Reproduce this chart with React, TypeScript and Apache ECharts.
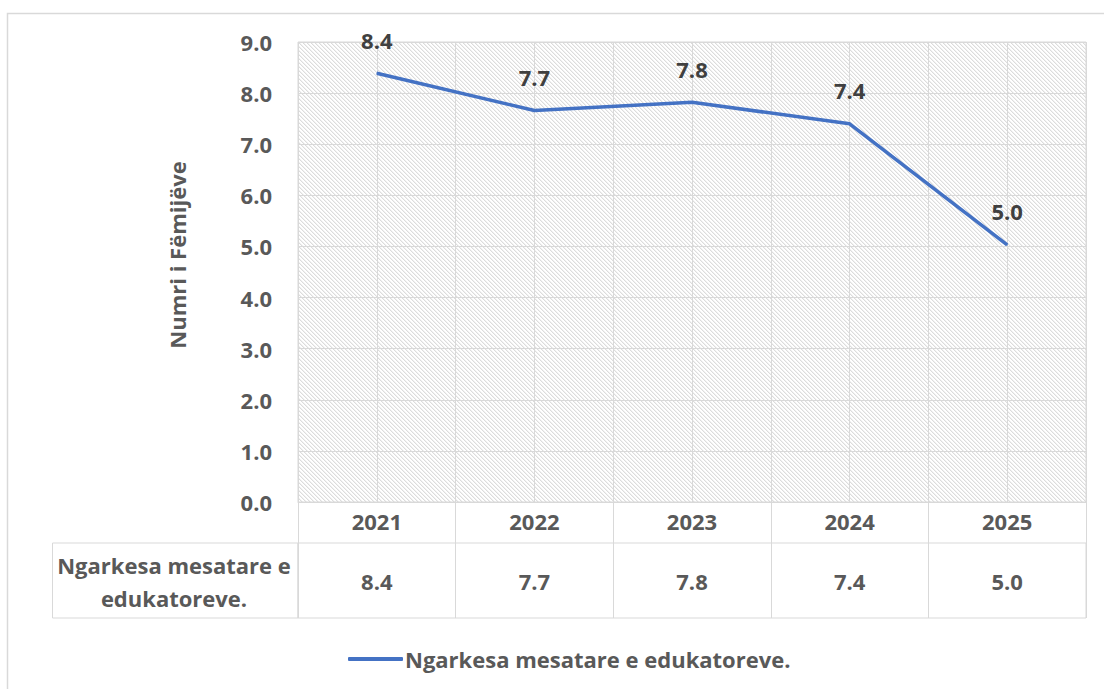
import React, { useEffect, useRef } from 'react';
import * as echarts from 'echarts';

const years = ['2021', '2022', '2023', '2024', '2025'];
const values = [8.39, 7.66, 7.82, 7.4, 5.03];
const seriesName = 'Ngarkesa mesatare e edukatoreve.';
const yAxisTitle = 'Numri i Fëmijëve';
const yMin = 0;
const yMax = 9;
const yStep = 1;

const FONT = '"Open Sans", "Noto Sans", sans-serif';
const GRID = '#d9d9d9';
const TXT = '#595959';

function makePattern(): string {
  const c = document.createElement('canvas');
  c.width = 8;
  c.height = 8;
  const ctx = c.getContext('2d')!;
  ctx.fillStyle = '#ffffff';
  ctx.fillRect(0, 0, 8, 8);
  for (let y = 0; y < 8; y++) {
    for (let x = 0; x < 8; x++) {
      const d = (((x - y) % 4) + 4) % 4;
      if (d === 0) {
        ctx.fillStyle = '#dcdcdc';
        ctx.fillRect(x, y, 1, 1);
      } else if (d === 1) {
        ctx.fillStyle = '#f1f1f1';
        ctx.fillRect(x, y, 1, 1);
      }
    }
  }
  return c.toDataURL();
}

export default function App() {
  const ref = useRef<HTMLDivElement>(null);
  useEffect(() => {
    document.body.style.margin = '0';
    const chart = echarts.init(ref.current!, undefined, { renderer: 'svg' });
    const pattern = makePattern();
    const boldText = { fontSize: 22, fontWeight: 'bold' as const, color: TXT, fontFamily: FONT };
    const option: any = {
      animation: false,
      backgroundColor: '#ffffff',
      grid: [
        {
          left: 298,
          top: 42,
          width: 788,
          height: 460,
          show: true,
          backgroundColor: { image: pattern, repeat: 'repeat' },
          borderColor: GRID,
          borderWidth: 1,
        },
        {
          left: 298,
          top: 543,
          width: 788,
          height: 75,
          show: true,
          backgroundColor: 'transparent',
          borderColor: GRID,
          borderWidth: 1,
        },
      ],
      xAxis: [
        {
          type: 'category',
          gridIndex: 0,
          data: years,
          boundaryGap: true,
          axisLine: { show: true, lineStyle: { color: GRID, width: 1 } },
          axisTick: { show: true, length: 41, lineStyle: { color: GRID, width: 1 } },
          axisLabel: { ...boldText, margin: 8 },
          splitLine: { show: false },
        },
        {
          type: 'value',
          gridIndex: 0,
          min: 0,
          max: 10,
          interval: 1,
          position: 'top',
          axisLine: { show: false },
          axisTick: { show: false },
          axisLabel: { show: false },
          splitLine: { show: true, lineStyle: { color: GRID, width: 1 } },
        },
        {
          type: 'category',
          gridIndex: 1,
          data: years,
          boundaryGap: true,
          axisLine: { show: false },
          axisTick: { show: false },
          axisLabel: { show: false },
          splitLine: { show: true, lineStyle: { color: GRID, width: 1 } },
        },
      ],
      yAxis: [
        {
          type: 'value',
          gridIndex: 0,
          min: yMin,
          max: yMax,
          interval: yStep,
          axisLine: { show: false },
          axisTick: { show: false },
          axisLabel: { ...boldText, margin: 26, formatter: (v: number) => v.toFixed(1) },
          splitLine: { show: true, lineStyle: { color: GRID, width: 1 } },
          name: yAxisTitle,
          nameLocation: 'middle',
          nameGap: 110,
          nameTextStyle: { ...boldText, padding: [0, 0, 0, 34] },
        },
        {
          type: 'value',
          gridIndex: 1,
          min: 0,
          max: 1,
          show: false,
        },
      ],
      legend: {
        data: [{ name: seriesName, icon: 'roundRect' }],
        top: 643,
        left: 343,
        itemWidth: 55,
        itemHeight: 4,
        itemGap: 0,
        textStyle: { ...boldText, padding: [0, 0, 0, -3] },
      },
      series: [
        {
          type: 'line',
          name: seriesName,
          xAxisIndex: 0,
          yAxisIndex: 0,
          data: values,
          symbol: 'circle',
          symbolSize: 1,
          showSymbol: true,
          lineStyle: { color: '#4472C4', width: 3.5 },
          itemStyle: { color: '#4472C4' },
          label: {
            show: true,
            position: 'top',
            distance: 22,
            formatter: (p: any) => Number(p.value).toFixed(1),
            fontSize: 22,
            fontWeight: 'bold',
            color: '#404040',
            fontFamily: FONT,
          },
          z: 5,
        },
        {
          type: 'scatter',
          name: 'table',
          xAxisIndex: 2,
          yAxisIndex: 1,
          data: years.map((_, i) => [i, 0.5]),
          symbolSize: 1,
          itemStyle: { color: '#ffffff', opacity: 1 },
          label: {
            show: true,
            position: 'inside',
            formatter: (p: any) => values[p.dataIndex].toFixed(1),
            ...boldText,
            opacity: 1,
          },
          emphasis: { disabled: true },
          silent: true,
        },
      ],
      graphic: [
        {
          type: 'rect',
          silent: true,
          z: -10,
          shape: { x: 7.5, y: 13.5, width: 1200, height: 1000 },
          style: { fill: 'none', stroke: GRID, lineWidth: 1.5 },
        },
        {
          type: 'rect',
          silent: true,
          shape: { x: 52.5, y: 543, width: 245.5, height: 75 },
          style: { fill: 'none', stroke: GRID, lineWidth: 1 },
        },
        {
          type: 'text',
          silent: true,
          x: 174,
          y: 581,
          style: {
            text: seriesName.replace(' e ', ' e\n'),
            align: 'center',
            verticalAlign: 'middle',
            textAlign: 'center',
            textVerticalAlign: 'middle',
            lineHeight: 33,
            fontSize: 22,
            fontWeight: 'bold',
            fontFamily: FONT,
            fill: TXT,
          },
        },
      ],
    };
    chart.setOption(option);
    return () => chart.dispose();
  }, []);
  return <div ref={ref} style={{ width: 1104, height: 689 }} />;
}
